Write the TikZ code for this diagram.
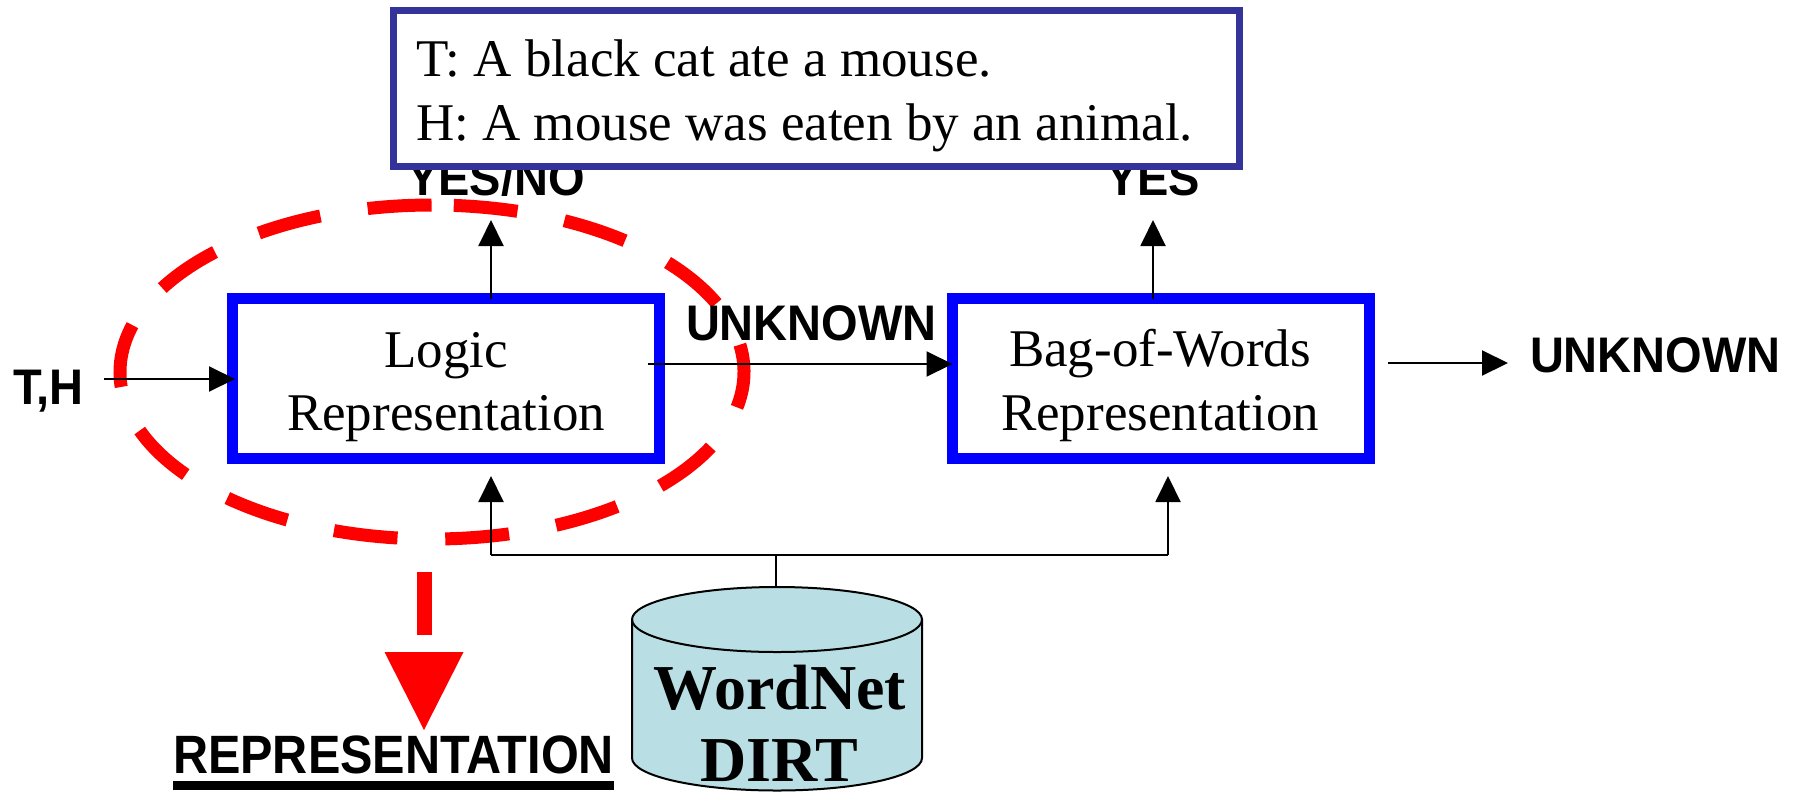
\documentclass[tikz,border=0pt]{standalone}
\usepackage{fontspec}
\setmainfont{Liberation Serif}
\newfontfamily\labelfont{Liberation Sans}[FakeStretch=0.94]
\newfontfamily\widelabelfont{Liberation Sans}[FakeStretch=0.9]
\usetikzlibrary{arrows.meta,calc}

\definecolor{stageblue}{RGB}{0,0,255}
\definecolor{pairnavy}{RGB}{51,51,153}
\definecolor{kbfill}{RGB}{185,223,228}
\definecolor{focusred}{RGB}{255,0,0}

\begin{document}
\begin{tikzpicture}[x=1pt,y=-1pt,
  every node/.style={inner sep=0pt, outer sep=0pt},
  stagebox/.style={draw=stageblue, line width=11pt, minimum height=160pt},
  stagetext/.style={font=\fontsize{53pt}{63pt}\selectfont, anchor=base},
  verdict/.style={font=\labelfont\bfseries\fontsize{50pt}{60pt}\selectfont, anchor=base west},
  kbtext/.style={font=\bfseries\fontsize{64pt}{70pt}\selectfont, anchor=base},
  link/.style={line width=2pt},
  flow/.style={line width=2pt, -{Triangle[length=26pt,width=25pt]}},
  focus/.style={draw=focusred, line width=13pt, dash pattern=on 64pt off 47.8pt}
]
\useasboundingbox (0,0) rectangle (1795,793);

% dashed focus ring around the logic stage
\draw[focus] (432,372) ++(274:312 and 167)
  arc[start angle=274, end angle=630, x radius=312, y radius=167];

% processing stages
\node[stagebox, minimum width=427pt] (logic) at (446,378.5) {};
\node[stagetext] (logicA) at (446,367) {Logic};
\node[stagetext] (logicB) at (446,430) {Representation};

\node[stagebox, minimum width=417pt] (bow) at (1161,378.5) {};
\node[stagetext] (bowA) at (1160,366) {Bag-of-Words};
\node[stagetext] (bowB) at (1160,430) {Representation};

% input and outputs
\node[verdict] (input) at (13,404) {T,H};
\coordinate (inputend) at (104,379);
\draw[flow] (inputend) -- ($(logic.west |- inputend)+(2.5,0)$);

\node[verdict] (yesno) at (407,195) {YES/NO};
\coordinate (logicup) at (491,220);
\draw[flow] (logicup |- logic.north) -- (logicup);

\node[verdict] (yes) at (1106,195) {YES};
\coordinate (bowup) at (1153,220);
\draw[flow] (bowup |- bow.north) -- (bowup);

\node[verdict] (unk1) at (686,340) {UNKNOWN};
\draw[flow] ($(logic.east)+(-11.5,-14.5)$) -- ($(bow.west)+(0,-14.5)$);

\node[verdict] (unk2) at (1530,372) {UNKNOWN};
\draw[flow] ($(bow.east)+(18.5,-15.5)$) -- ($(bow.east)+(138.5,-15.5)$);

% example pair
\node[draw=pairnavy, line width=7pt, fill=white, minimum width=846pt,
      minimum height=156pt] (pair) at (816.5,88.5) {};
\node[font=\fontsize{53pt}{63pt}\selectfont, anchor=base west] (tline) at (416,76)
  {T: A black cat ate a mouse.};
\node[font=\fontsize{53pt}{63pt}\selectfont, anchor=base west] (hline) at (416,140)
  {H: A mouse was eaten by an animal.};

% knowledge base feeding both stages
\coordinate (busL) at (491,555);
\coordinate (busR) at (1168,555);
\coordinate (tap) at (776,555);
\coordinate (kbtop) at (776,587);
\draw[link] (busL) -- (busR);
\draw[flow] (busL) -- ($(busL |- logic.south)+(0,17.5)$);
\draw[flow] (busR) -- ($(busR |- bow.south)+(0,17.5)$);
\draw[link] (tap) -- (kbtop);

\filldraw[fill=kbfill, draw=black, line width=2pt]
  (632,619.5) -- (632,758) arc[start angle=180, end angle=0, x radius=145, y radius=32.5]
  -- (922,619.5) arc[start angle=0, end angle=-180, x radius=145, y radius=32.5] -- cycle;
\draw[line width=2pt] (632,619.5) arc[start angle=180, end angle=0, x radius=145, y radius=32.5];
\node[kbtext] (kbA) at (780,709) {WordNet};
\node[kbtext] (kbB) at (779,781) {DIRT};

% highlighted output of the logic stage
\coordinate (dropA) at (424,572);
\coordinate (tipbase) at (424,652);
\coordinate (tip) at (424,730);
\draw[focusred, line width=15pt] (dropA) -- ++(0,63);
\fill[focusred] ($(tipbase)+(-39.5,0)$) -- ($(tipbase)+(39.5,0)$) -- (tip) -- cycle;

\node[font=\widelabelfont\bfseries\fontsize{54pt}{60pt}\selectfont, anchor=base west]
  (rep) at (173,773) {REPRESENTATION};
\draw[line width=9pt] ([yshift=-12.5pt]rep.base west) -- ([yshift=-12.5pt]rep.base east);
\end{tikzpicture}
\end{document}
